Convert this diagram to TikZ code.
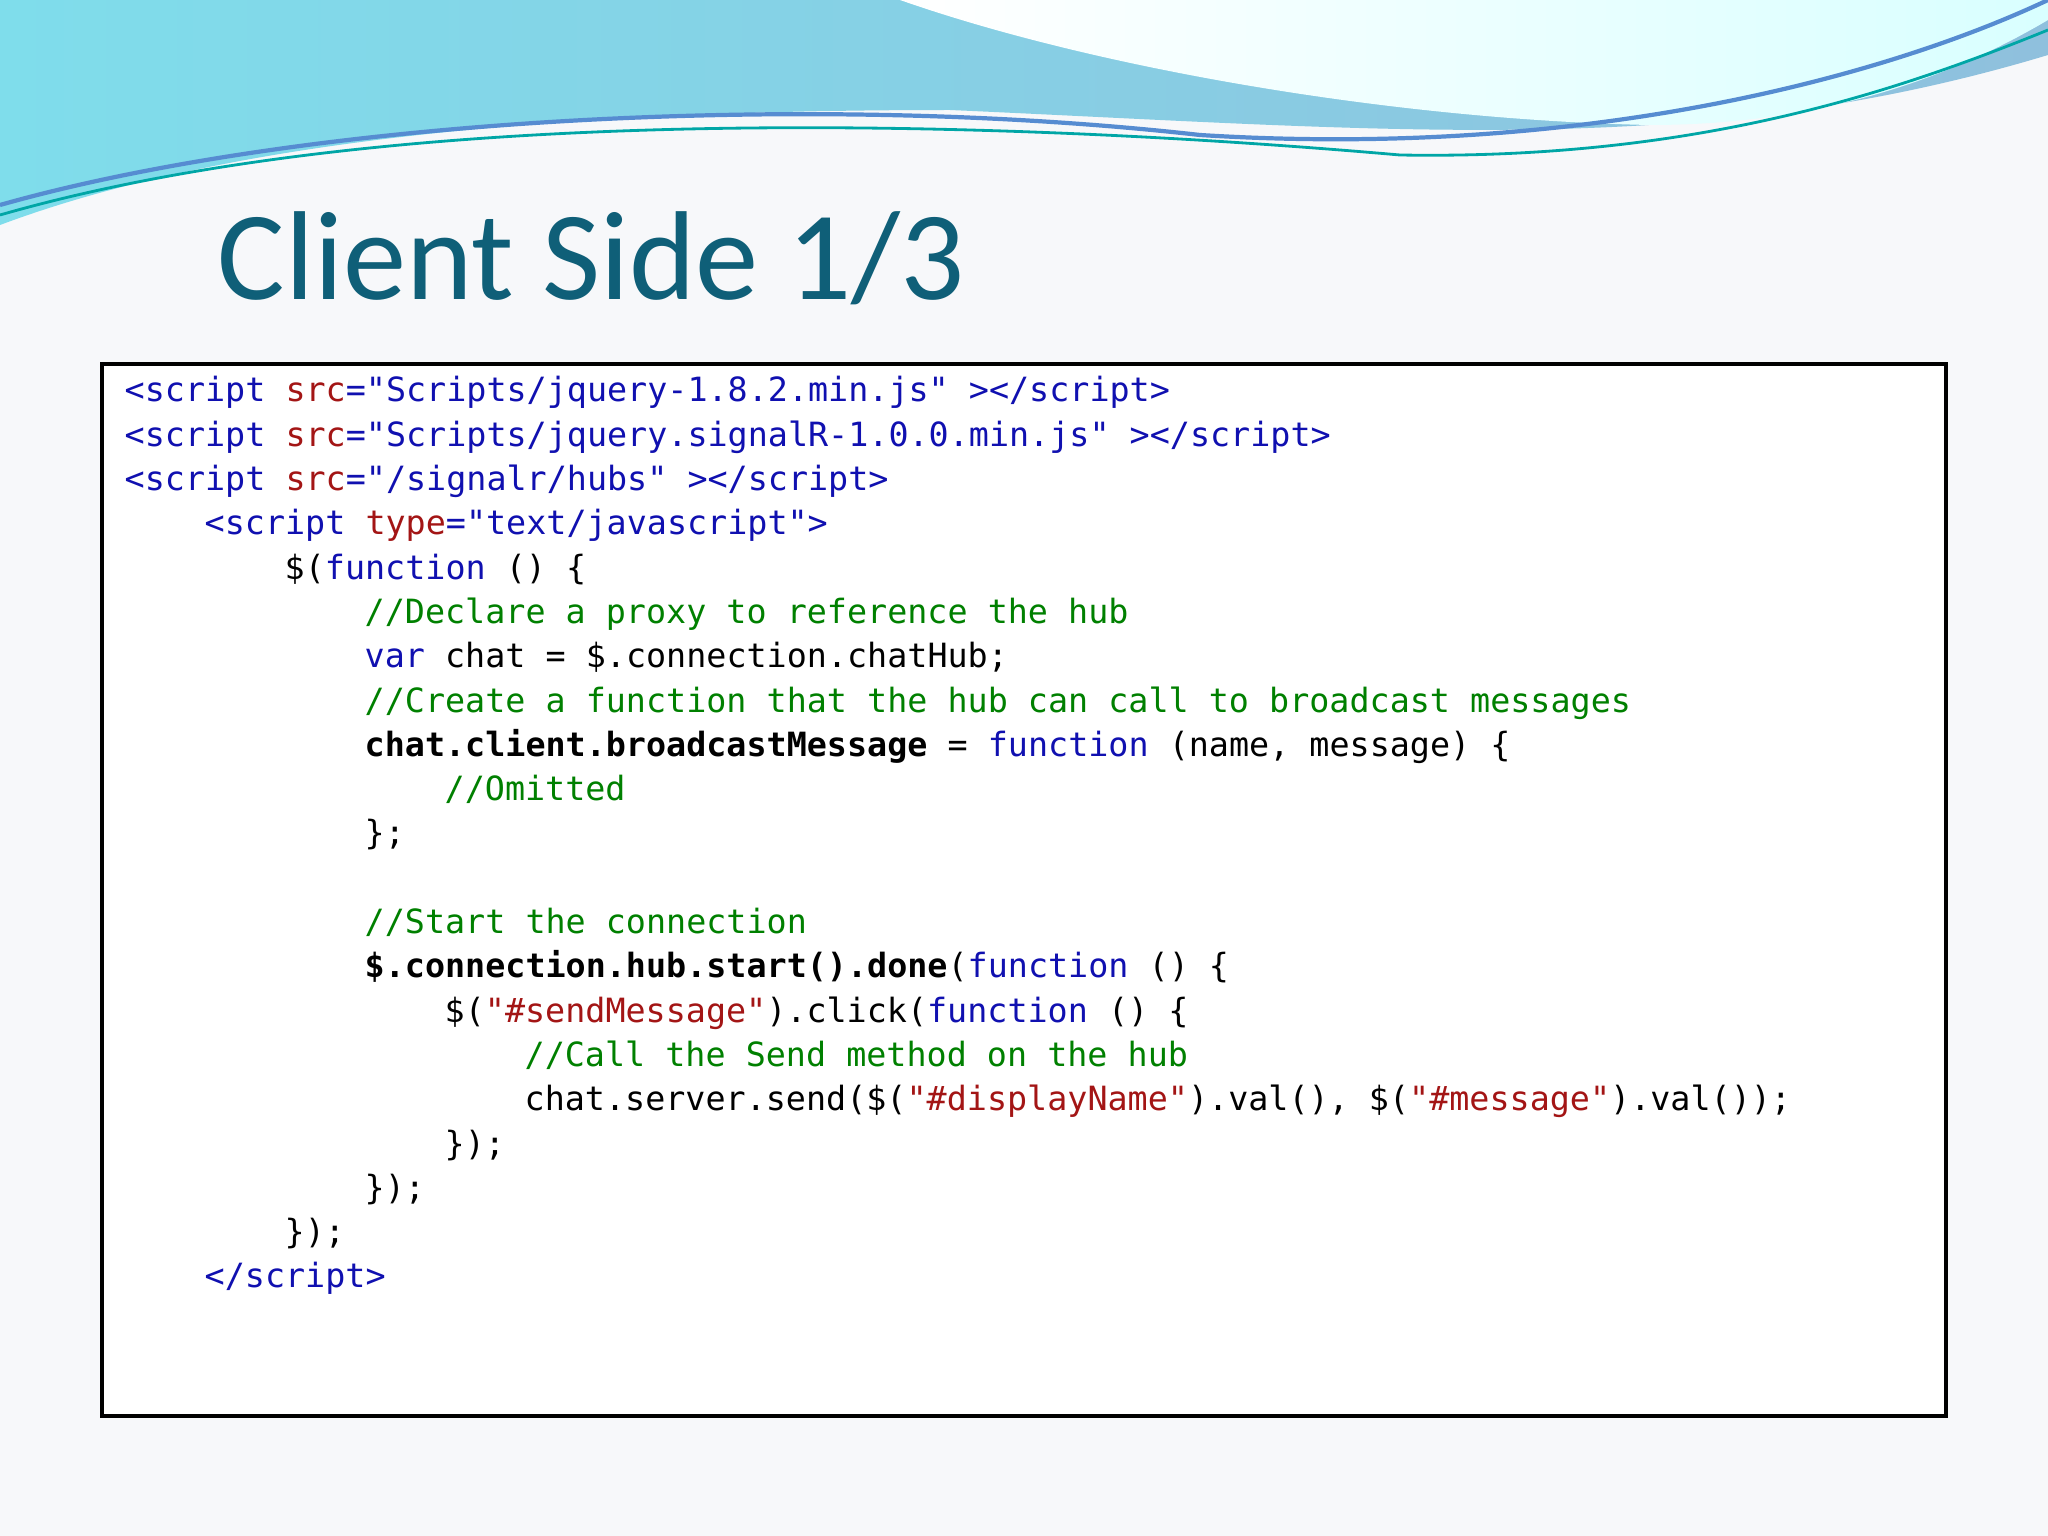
\documentclass[tikz,border=0pt]{standalone}
\usepackage{fontspec}
\setmainfont{Carlito}
\setmonofont{DejaVu Sans Mono}
\definecolor{ttl}{HTML}{0F5F78}
\definecolor{kb}{HTML}{1010B0}
\definecolor{kr}{HTML}{A31515}
\definecolor{kg}{HTML}{008000}
\definecolor{bg}{HTML}{F7F8FA}
\definecolor{wl}{HTML}{7FDDEB}
\definecolor{wr}{HTML}{8FC0DD}
\newcommand\cblu[1]{\textcolor{kb}{#1}}
\newcommand\cred[1]{\textcolor{kr}{#1}}
\newcommand\cgrn[1]{\textcolor{kg}{#1}}
\tikzset{code/.style={anchor=base west,inner sep=0pt,font=\ttfamily\fontsize{9.5pt}{12pt}\selectfont}}
\newcommand\codeline[3]{\node[code] (l#1) at (1.24+#2*0.2,-4.02-#1*0.443) {#3};}
\begin{document}
\begin{tikzpicture}
\useasboundingbox (0,0) rectangle (20.48,-15.36);
\fill[bg] (0,0) rectangle (20.48,-15.36);
\shade[left color=wl, right color=wr]
 (0,0) -- (20.48,0) -- (20.48,-0.55) .. controls (17,-1.6) and (14,-1.3) .. (9.5,-1.1) .. controls (5,-1.1) and (2,-1.5) .. (0,-2.25) -- cycle;
\shade[left color=white, right color=cyan!15!white]
 (9,0) .. controls (11,-0.7) and (14,-1.2) .. (16.5,-1.25) .. controls (18.5,-1.25) and (19.8,-0.6) .. (20.48,-0.2) -- (20.48,0) -- cycle;
\draw[teal!70!cyan,line width=0.8pt] (0,-2.15) .. controls (4,-1.0) and (10,-1.2) .. (14,-1.55) .. controls (17,-1.6) and (19,-0.9) .. (20.48,-0.3);
\draw[cyan!50!blue!70!white,line width=1.2pt] (0,-2.05) .. controls (3,-1.2) and (8,-0.9) .. (12,-1.35) .. controls (16,-1.6) and (19,-0.7) .. (20.48,0);
\node[anchor=base west,inner sep=0pt,text=ttl,font=\fontsize{36pt}{40pt}\selectfont] (title) at (2.17,-3.0) {Client Side 1/3};
\draw[line width=1.2pt,fill=white] (1.02,-3.64) rectangle (19.46,-14.16);
\codeline{0}{0}{\cblu{<script} \cred{src}\cblu{="Scripts/jquery-1.8.2.min.js" ></script>}}
\codeline{1}{0}{\cblu{<script} \cred{src}\cblu{="Scripts/jquery.signalR-1.0.0.min.js" ></script>}}
\codeline{2}{0}{\cblu{<script} \cred{src}\cblu{="/signalr/hubs" ></script>}}
\codeline{3}{4}{\cblu{<script} \cred{type}\cblu{="text/javascript">}}
\codeline{4}{8}{\$(\cblu{function} () \{}
\codeline{5}{12}{\cgrn{//Declare a proxy to reference the hub}}
\codeline{6}{12}{\cblu{var} chat = \$.connection.chatHub;}
\codeline{7}{12}{\cgrn{//Create a function that the hub can call to broadcast messages}}
\codeline{8}{12}{\textbf{chat.client.broadcastMessage} = \cblu{function} (name, message) \{}
\codeline{9}{16}{\cgrn{//Omitted}}
\codeline{10}{12}{\};}
\codeline{12}{12}{\cgrn{//Start the connection}}
\codeline{13}{12}{\textbf{\$.connection.hub.start().done}(\cblu{function} () \{}
\codeline{14}{16}{\$(\cred{"\#sendMessage"}).click(\cblu{function} () \{}
\codeline{15}{20}{\cgrn{//Call the Send method on the hub}}
\codeline{16}{20}{chat.server.send(\$(\cred{"\#displayName"}).val(), \$(\cred{"\#message"}).val());}
\codeline{17}{16}{\});}
\codeline{18}{12}{\});}
\codeline{19}{8}{\});}
\codeline{20}{4}{\cblu{</script>}}
\end{tikzpicture}
\end{document}
